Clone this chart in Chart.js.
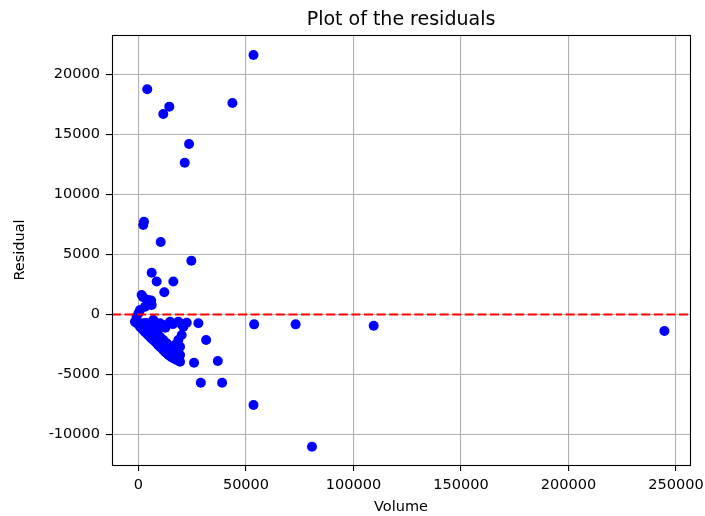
<!DOCTYPE html>
<html>
<head>
<meta charset="utf-8">
<script src="https://cdn.jsdelivr.net/npm/chart.js@4"></script>
<style>
  html, body { margin: 0; padding: 0; background: #fff; }
  canvas { display: block; }
</style>
</head>
<body>
<canvas id="residChart" width="705" height="516"></canvas>
<script>
// residuals: volume -> residual
const volume = [
  53500, 4100, 14350, 11560, 43700, 23530, 21530, 2560, 2240, 10350,
  24600, 6150, 8480, 16220, 12020,
  1490, 4570, 6150, 3030, 700, 0, 2200, 5900, 5550, -840,
  -840, 700, 2240, 3820, 5360, 6900, 8480, 10020, 11560, 13140, 14680, 16220, 17800,
  2240, 4570, 6900, 8480, 10020, 11560, 13140, 14680, 16220, 17800, 19340,
  10020, 11560, 20880, 20100, 18550, 19340, 17000,
  6900, 14680, 18550, 22460, 27870, -1630,
  1500, 3000, 4500, 6100, 7700, 9200, 10800, 12300, 13900, 15400, 17000, 18500, 18000,
  3500, 5000, 8000, 9500, 12500, 16000, 20000,
  19340, 25860, 36900, 31460, 29000, 38900, 80700, 53500,
  53800, 73100, 109400, 244600
];
const residual = [
  21620, 18770, 17320, 16710, 17620, 14210, 12650, 7730, 7460, 6040,
  4480, 3480, 2750, 2750, 1850,
  1620, 1210, 790, 650, 375, 100, 1440, 1170, 830, -180,
  -730, -1020, -1290, -1570, -1850, -2120, -2400, -2680, -2960, -3230, -3460, -3650, -3790,
  -730, -1020, -1290, -1570, -1850, -2120, -2400, -2680, -2960, -3100, -3370,
  -730, -870, -1020, -1710, -2120, -2680, -2540,
  -460, -600, -600, -680, -730, -600,
  -1150, -1450, -1700, -2000, -2250, -2550, -2800, -3100, -3350, -3550, -3700, -3650, -3400,
  -700, -850, -1000, -1150, -1100, -800, -800,
  -3930, -4020, -3880, -2120, -5680, -5680, -11020, -7540,
  -820, -820, -930, -1370
];

const xTicks = [0, 50000, 100000, 150000, 200000, 250000];
const yTicks = [-10000, -5000, 0, 5000, 10000, 15000, 20000];
const xMin = -12300, xMax = 256500;
const yMin = -12540, yMax = 23290;

const points = volume.map((v, i) => ({ x: v, y: residual[i] }));

const FONT = 'DejaVu Sans';

// full box round the plot, like the matplotlib spines
const frame = {
  id: 'frame',
  afterDraw(chart) {
    const { ctx, chartArea: a } = chart;
    ctx.save();
    ctx.strokeStyle = '#000';
    ctx.lineWidth = 1.1;
    ctx.strokeRect(Math.round(a.left) + 0.5, Math.round(a.top) + 0.5,
      Math.round(a.right - a.left), Math.round(a.bottom - a.top));
    ctx.restore();
  }
};

function fixedTicks(list) {
  return scale => { scale.ticks = list.map(v => ({ value: v })); };
}

new Chart(document.getElementById('residChart'), {
  type: 'scatter',
  data: {
    datasets: [
      {
        type: 'line',
        label: 'zero',
        data: [{ x: xMin, y: 0 }, { x: xMax, y: 0 }],
        borderColor: '#ff0000',
        borderWidth: 2.2,
        borderDash: [9, 3.6],
        pointRadius: 0,
        fill: false,
        order: 0
      },
      {
        label: 'Residuals',
        data: points,
        backgroundColor: '#0000ff',
        borderColor: '#0000ff',
        borderWidth: 0,
        pointRadius: 5,
        order: 1
      }
    ]
  },
  options: {
    responsive: false,
    animation: false,
    devicePixelRatio: 1,
    events: [],
    layout: { padding: { left: 0, right: 15, top: 0, bottom: 0 } },
    plugins: {
      legend: { display: false },
      tooltip: { enabled: false },
      title: {
        display: true,
        text: 'Plot of the residuals',
        color: '#000',
        fullSize: false,
        font: { family: FONT, size: 19, weight: 'normal', lineHeight: 1.2 },
        padding: { top: 9, bottom: 3.2 }
      }
    },
    scales: {
      x: {
        type: 'linear',
        min: xMin,
        max: xMax,
        afterBuildTicks: fixedTicks(xTicks),
        afterFit(scale) { scale.height = 51; scale.paddingLeft = 0; scale.paddingRight = 0; },
        grid: { color: '#b0b0b0', lineWidth: 1.1, tickColor: '#000', tickLength: 6 },
        border: { display: false },
        ticks: {
          color: '#000', padding: 6, maxRotation: 0, autoSkip: false,
          font: { family: FONT, size: 14.5 },
          callback: v => String(v)
        },
        title: {
          display: true, text: 'Volume', color: '#000',
          font: { family: FONT, size: 14.5 },
          padding: { top: 0, bottom: 0 }
        }
      },
      y: {
        type: 'linear',
        min: yMin,
        max: yMax,
        afterBuildTicks: fixedTicks(yTicks),
        afterFit(scale) { scale.width = 112; scale.paddingTop = 0; scale.paddingBottom = 0; },
        grid: { color: '#b0b0b0', lineWidth: 1.1, tickColor: '#000', tickLength: 6 },
        border: { display: false },
        ticks: {
          color: '#000', padding: 6, autoSkip: false,
          font: { family: FONT, size: 14.5 },
          callback: v => String(v)
        },
        title: {
          display: true, text: 'Residual', color: '#000',
          font: { family: FONT, size: 14.5 },
          padding: { top: 12, bottom: 0 }
        }
      }
    }
  },
  plugins: [frame]
});
</script>
</body>
</html>
